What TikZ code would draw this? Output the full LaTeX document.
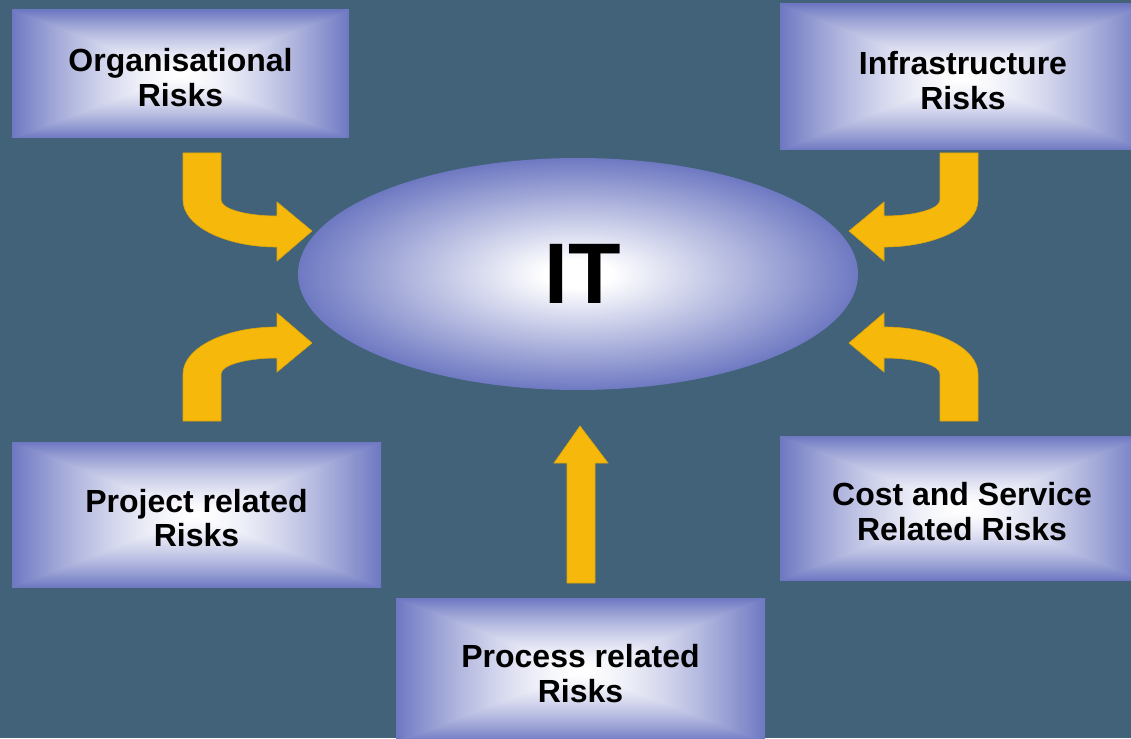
\documentclass[tikz,border=0pt]{standalone}
\usepackage{fontspec}
\setmainfont{Liberation Sans}
\usetikzlibrary{shapes.geometric}
\definecolor{bgcol}{RGB}{65,98,120}
\definecolor{itblue}{RGB}{110,121,194}
\definecolor{arrowyellow}{RGB}{246,184,11}
\pgfdeclarefunctionalshading{boxshade}{\pgfpoint{-50bp}{-50bp}}{\pgfpoint{50bp}{50bp}}{}{
abs exch abs 2 copy lt {exch} if pop 25 div dup 1 gt {pop 1} if dup sqrt mul
dup 0.57 mul 1 exch sub exch dup 0.53 mul 1 exch sub exch 0.24 mul 1 exch sub
}
\pgfdeclareradialshading{ellshade}{\pgfpoint{0bp}{0bp}}{color(0bp)=(white); color(3bp)=(white); color(25bp)=(itblue); color(50bp)=(itblue)}
\newcommand{\tstrut}{\rule{0pt}{30pt}}
\tikzset{
  riskbox/.style={rectangle, shading=boxshade, inner sep=0pt, align=center,
    font=\fontsize{32}{34.5}\selectfont\bfseries, text=black},
  itell/.style={ellipse, shading=ellshade, inner sep=0pt,
    font=\fontsize{86}{90}\selectfont\bfseries, text=black},
  bentarrow/.style={fill=arrowyellow, draw=arrowyellow!90!black, line width=0.6pt, line join=miter}
}
\newcommand{\bentarrowpath}{%
  (183,153) -- (183,200) .. controls (183,226) and (225,247) .. (277,247)
  -- (277,261) -- (312,231) -- (277,202) -- (277,216)
  .. controls (246,216) and (221,209) .. (221,200) -- (221,153) -- cycle}
\begin{document}
\begin{tikzpicture}[x=1pt,y=-1pt]
\useasboundingbox (0,0) rectangle (1131,738);
\fill[bgcol] (0,0) rectangle (1131,738);

% boxes
\node[riskbox, minimum width=337pt, minimum height=128pt] (org) at (180.5,74) {\tstrut Organisational\\Risks};
\node[riskbox, minimum width=366pt, minimum height=146pt] (infra) at (963,77) {\tstrut Infrastructure\\Risks};
\node[riskbox, minimum width=369pt, minimum height=145pt] (proj) at (196.5,514.5) {\tstrut Project related\\Risks};
\node[riskbox, minimum width=364pt, minimum height=144pt] (cost) at (962,508) {\tstrut Cost and Service\\Related Risks};
\node[riskbox, minimum width=369pt, minimum height=144pt] (proc) at (580.5,670) {\tstrut Process related\\Risks};

% central ellipse
\node[itell, minimum width=560pt, minimum height=232pt] (it) at (578,274) {\hspace*{9pt}IT};

% bent arrows
\draw[bentarrow] \bentarrowpath;
\begin{scope}[shift={(0,574)}, yscale=-1]
  \draw[bentarrow] \bentarrowpath;
\end{scope}
\begin{scope}[shift={(1161,0)}, xscale=-1]
  \draw[bentarrow] \bentarrowpath;
\end{scope}
\begin{scope}[shift={(1161,574)}, xscale=-1, yscale=-1]
  \draw[bentarrow] \bentarrowpath;
\end{scope}

% straight up arrow
\draw[bentarrow] (567,583) -- (567,463) -- (554,463) -- (580,426) -- (608,463) -- (595,463) -- (595,583) -- cycle;
\end{tikzpicture}
\end{document}
